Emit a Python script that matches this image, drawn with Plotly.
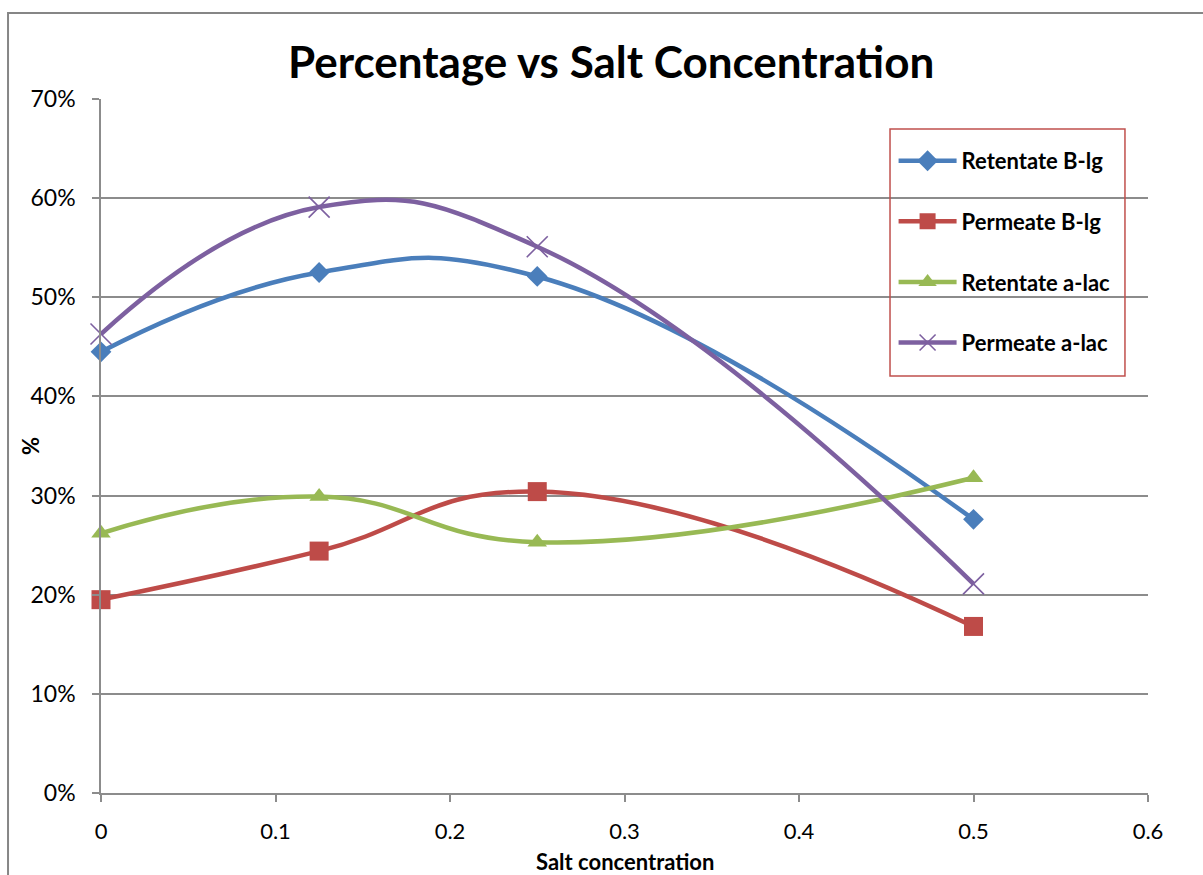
import plotly.graph_objects as go

# Salt concentration (x) and percentage readings for each fraction
salt = [0, 0.125, 0.25, 0.5]
retentate_blg = [0.445, 0.525, 0.521, 0.276]
permeate_blg = [0.195, 0.244, 0.304, 0.168]
retentate_alac = [0.262, 0.299, 0.253, 0.318]
permeate_alac = [0.463, 0.591, 0.551, 0.211]

x_ticks = [0, 0.1, 0.2, 0.3, 0.4, 0.5, 0.6]

FONT = "Lato"
GRID = "#8c8c8c"

series = [
    ("Retentate B-lg", retentate_blg, "#4A7EBB", dict(symbol="diamond", size=16)),
    ("Permeate B-lg", permeate_blg, "#BE4B48", dict(symbol="square", size=19)),
    ("Retentate a-lac", retentate_alac, "#98B954", dict(symbol="triangle-up", size=17)),
    ("Permeate a-lac", permeate_alac, "#7D60A0",
     dict(symbol="x-thin-open", size=21, line=dict(width=1.6, color="#7D60A0"))),
]

fig = go.Figure()
for i, (name, vals, color, marker) in enumerate(series):
    m = dict(color=color, **marker)
    fig.add_trace(go.Scatter(
        x=salt, y=vals, name=f"<b>{name}</b>", mode="lines+markers",
        line=dict(color=color, width=4.5, shape="spline", smoothing=1.3),
        marker=m, legendgroup=f"g{i}", cliponaxis=False,
    ))

fig.update_layout(
    width=1203, height=875,
    margin=dict(l=101, r=55, t=99, b=82, autoexpand=False),
    paper_bgcolor="white", plot_bgcolor="white",
    font=dict(family=FONT, color="black"),
    title=dict(text="<b>Percentage vs Salt Concentration</b>",
               font=dict(family=FONT, size=44, color="black"),
               x=0.508, xanchor="center", y=0.928, yanchor="middle"),
    showlegend=True,
    legend=dict(x=0.757, y=0.941, xanchor="left", yanchor="top",
                bgcolor="rgba(0,0,0,0)", borderwidth=0,
                font=dict(family=FONT, size=22, color="black"),
                itemwidth=58,
                tracegroupgap=29, traceorder="grouped"),
)

fig.update_xaxes(
    range=[0, 0.6], tickvals=x_ticks, ticktext=[f"{v:g}" for v in x_ticks],
    showgrid=False, zeroline=False, automargin=False,
    showline=True, linecolor=GRID, linewidth=1.5,
    ticks="outside", ticklen=7, tickcolor=GRID, tickwidth=1.5,
    tickfont=dict(family=FONT, size=22), ticklabelstandoff=11,
)
fig.update_yaxes(
    range=[0, 0.7], dtick=0.1, tickformat=".0%",
    showgrid=True, gridcolor=GRID, gridwidth=1.5, automargin=False,
    zeroline=False, showline=True, linecolor=GRID, linewidth=1.5,
    ticks="outside", ticklen=7, tickcolor=GRID, tickwidth=1.5,
    tickfont=dict(family=FONT, size=23), ticklabelstandoff=12,
)

# Axis titles placed as annotations
fig.add_annotation(text="<b>Salt concentration</b>", xref="paper", yref="paper",
                   x=0.5, y=-0.0994, xanchor="center", yanchor="middle",
                   showarrow=False, font=dict(family=FONT, size=22, color="black"))
fig.add_annotation(text="<b>%</b>", xref="paper", yref="paper",
                   x=-0.0678, y=0.5, xanchor="center", yanchor="middle",
                   textangle=-90, showarrow=False,
                   font=dict(family=FONT, size=22, color="black"))

# Outer chart frame and legend frame
fig.add_shape(type="rect", xref="paper", yref="paper",
              x0=-0.0888, x1=1.2, y0=-0.3, y1=1.1239,
              line=dict(color="#868686", width=2), layer="below")
fig.add_shape(type="rect", xref="paper", yref="paper",
              x0=0.7536, x1=0.978, y0=0.6009, y1=0.9568,
              line=dict(color="#C0504D", width=1.5), layer="above")

fig.write_html("out.html")
